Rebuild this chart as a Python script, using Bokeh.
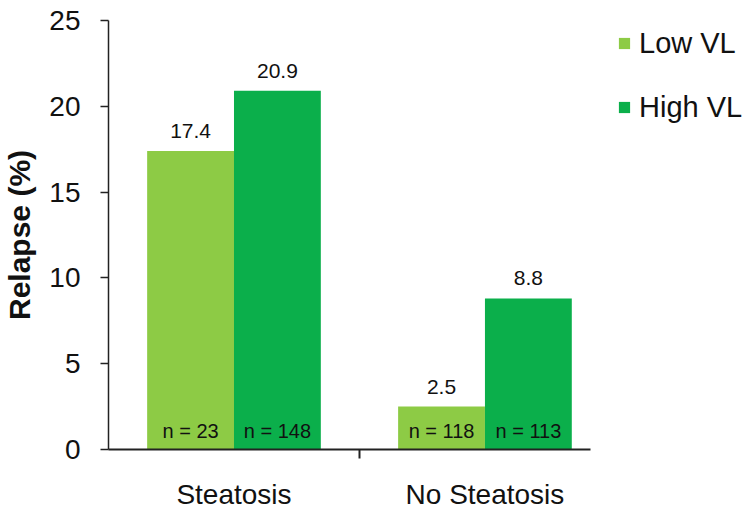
from bokeh.plotting import figure
from bokeh.models import ColumnDataSource, Range1d, FixedTicker, Legend, LegendItem, LabelSet
from bokeh.transform import dodge
from bokeh.core.properties import value
from bokeh.embed import file_html
from bokeh.resources import INLINE

categories = ["Steatosis", "No Steatosis"]
low_vl = [17.4, 2.5]
high_vl = [20.9, 8.8]
low_n = ["n = 23", "n = 118"]
high_n = ["n = 148", "n = 113"]
y_ticks = [0, 5, 10, 15, 20, 25]

LOW_COLOR = "#8DCB45"
HIGH_COLOR = "#0BAF4B"
FONT = "Liberation Sans"

xpos = [i + 0.5 for i in range(len(categories))]
src = ColumnDataSource(dict(
    x=xpos, low=low_vl, high=high_vl,
    low_lbl=[f"{v:.1f}" for v in low_vl], high_lbl=[f"{v:.1f}" for v in high_vl],
    low_n=low_n, high_n=high_n, zero=[0] * len(categories),
))

W, H = 755, 512
p = figure(width=W, height=H, output_backend="svg", toolbar_location=None,
           x_range=Range1d(0, 2.578), y_range=Range1d(0, 25),
           min_border_left=108, min_border_right=0, min_border_top=20, min_border_bottom=62)
p.outline_line_color = None
p.grid.visible = False
p.background_fill_color = "white"

bw = 0.346
r_low = p.vbar(x=dodge("x", -bw / 2, range=p.x_range), top="low", width=bw, source=src,
               fill_color=LOW_COLOR, line_color=None)
r_high = p.vbar(x=dodge("x", bw / 2, range=p.x_range), top="high", width=bw, source=src,
                fill_color=HIGH_COLOR, line_color=None)

common = dict(text_font=value(FONT), text_align="center", text_baseline="alphabetic",
              text_color="#111111")
p.add_layout(LabelSet(x=dodge("x", -bw / 2, range=p.x_range), y="low", text="low_lbl", source=src,
                      y_offset=13, text_font_size="21px", **common))
p.add_layout(LabelSet(x=dodge("x", bw / 2, range=p.x_range), y="high", text="high_lbl", source=src,
                      y_offset=13, text_font_size="21px", **common))
p.add_layout(LabelSet(x=dodge("x", -bw / 2, range=p.x_range), y="zero", text="low_n", source=src,
                      y_offset=12, text_font_size="20px", **common))
p.add_layout(LabelSet(x=dodge("x", bw / 2, range=p.x_range), y="zero", text="high_n", source=src,
                      y_offset=12, text_font_size="20px", **common))

# x axis
xa = p.xaxis[0]
xa.ticker = FixedTicker(ticks=xpos, minor_ticks=[1.0])
xa.major_label_overrides = {x: c for x, c in zip(xpos, categories)}
xa.bounds = (0, 1.92)
xa.major_tick_out = 0
xa.major_tick_in = 0
xa.minor_tick_out = 9
xa.minor_tick_in = 0
xa.minor_tick_line_color = "#222222"
xa.minor_tick_line_width = 2
xa.axis_line_color = "#222222"
xa.axis_line_width = 2
xa.major_label_text_font = FONT
xa.major_label_text_font_size = "28px"
xa.major_label_text_color = "#111111"
xa.major_label_standoff = 20

# y axis
ya = p.yaxis[0]
ya.ticker = FixedTicker(ticks=y_ticks)
ya.major_tick_out = 8
ya.major_tick_in = 0
ya.minor_tick_line_color = None
ya.axis_line_color = "#222222"
ya.axis_line_width = 1.5
ya.major_tick_line_color = "#222222"
ya.major_tick_line_width = 1.5
ya.major_label_text_font = FONT
ya.major_label_text_font_size = "28px"
ya.major_label_text_color = "#111111"
ya.major_label_standoff = 20
ya.axis_label = "Relapse (%)"
ya.axis_label_text_font = FONT
ya.axis_label_text_font_size = "30px"
ya.axis_label_text_font_style = "bold"
ya.axis_label_text_color = "#111111"
ya.axis_label_standoff = 10

legend = Legend(items=[LegendItem(label="Low VL", renderers=[r_low]),
                       LegendItem(label="High VL", renderers=[r_high])],
                location=(509, 325), padding=0, margin=0, spacing=30,
                glyph_width=14, glyph_height=14, label_height=34, label_standoff=8,
                label_text_font=FONT, label_text_font_size="29px", label_text_color="#111111",
                border_line_color=None, background_fill_alpha=0)
p.add_layout(legend, "center")

open("out.html", "w").write(file_html(p, INLINE))
